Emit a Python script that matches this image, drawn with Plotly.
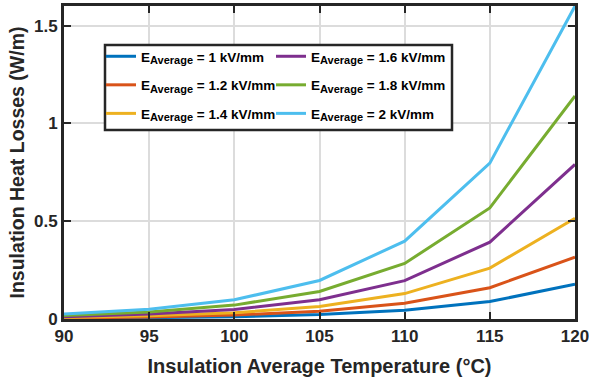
import plotly.graph_objects as go

# Insulation average temperature (°C)
temperature = [90, 95, 100, 105, 110, 115, 120]

# Insulation heat losses (W/m) for each average field strength
loss_e10 = [0.003, 0.006, 0.011, 0.023, 0.045, 0.089, 0.178]
loss_e12 = [0.005, 0.010, 0.020, 0.040, 0.080, 0.160, 0.316]
loss_e14 = [0.008, 0.016, 0.032, 0.064, 0.130, 0.260, 0.515]
loss_e16 = [0.012, 0.025, 0.049, 0.098, 0.196, 0.393, 0.790]
loss_e18 = [0.018, 0.036, 0.071, 0.141, 0.284, 0.568, 1.140]
loss_e20 = [0.025, 0.050, 0.098, 0.197, 0.398, 0.797, 1.600]

field_labels = ["1", "1.2", "1.4", "1.6", "1.8", "2"]
series = [loss_e10, loss_e12, loss_e14, loss_e16, loss_e18, loss_e20]
colors = ["#0072BD", "#D95319", "#EDB120", "#7E2F8E", "#77AC30", "#4DBEEE"]
legend_columns = ["legend", "legend", "legend", "legend2", "legend2", "legend2"]

x_ticks = [90, 95, 100, 105, 110, 115, 120]
y_ticks = [0, 0.5, 1, 1.5]
y_tick_text = ["0", "0.5", "1", "1.5"]

FONT = "Liberation Sans, Arial, sans-serif"
INK = "#262626"

fig = go.Figure()
for i, (label, values, color, lg) in enumerate(zip(field_labels, series, colors, legend_columns)):
    fig.add_trace(go.Scatter(
        x=temperature, y=values, mode="lines",
        line=dict(color=color, width=3),
        name=("E<sub><span style='font-size:11px'>Average</span></sub>"
              f" = {label} kV/mm"),
        legend=lg, legendgroup=f"g{i}",
    ))

W, H = 589, 380
L, R, T, B = 64, 14, 6, 61
pw, ph = W - L - R, H - T - B


def px_x(p):
    return (p - L) / pw


def px_y(p):
    return (H - B - p) / ph


legend_common = dict(
    bgcolor="rgba(255,255,255,0)", borderwidth=0,
    font=dict(family=FONT, size=13.5, color="black", weight="bold"),
    xanchor="left", yanchor="top", tracegroupgap=8,
    itemwidth=30,
)

fig.update_layout(
    width=W, height=H,
    margin=dict(l=L, r=R, t=T, b=B),
    paper_bgcolor="white", plot_bgcolor="white",
    font=dict(family=FONT, color=INK, weight="bold"),
    showlegend=True,
    legend=dict(x=px_x(101), y=px_y(41), **legend_common),
    legend2=dict(x=px_x(271), y=px_y(41), **legend_common),
    shapes=[dict(
        type="rect", xref="paper", yref="paper",
        x0=px_x(105), x1=px_x(452), y0=px_y(130), y1=px_y(45),
        line=dict(color=INK, width=2.5), fillcolor="white", layer="above",
    )],
)

axis_common = dict(
    showline=True, linecolor=INK, linewidth=3, mirror="ticks",
    ticks="inside", ticklen=7, tickwidth=2, tickcolor=INK,
    showgrid=True, gridcolor="#dcdcdc", gridwidth=2,
    zeroline=False, ticklabeloverflow="allow", automargin=False,
    tickfont=dict(family=FONT, size=17, color=INK, weight="bold"),
)

fig.update_xaxes(
    range=[90, 120], tickvals=x_ticks,
    title=dict(text="Insulation Average Temperature (°C)", standoff=14,
               font=dict(family=FONT, size=20, color=INK, weight="bold")),
    **axis_common,
)
fig.update_yaxes(
    range=[0, 1.6], tickvals=y_ticks, ticktext=y_tick_text,
    title=dict(text="Insulation Heat Losses (W/m)", standoff=5,
               font=dict(family=FONT, size=19.5, color=INK, weight="bold")),
    **axis_common,
)

fig.write_html("out.html")
